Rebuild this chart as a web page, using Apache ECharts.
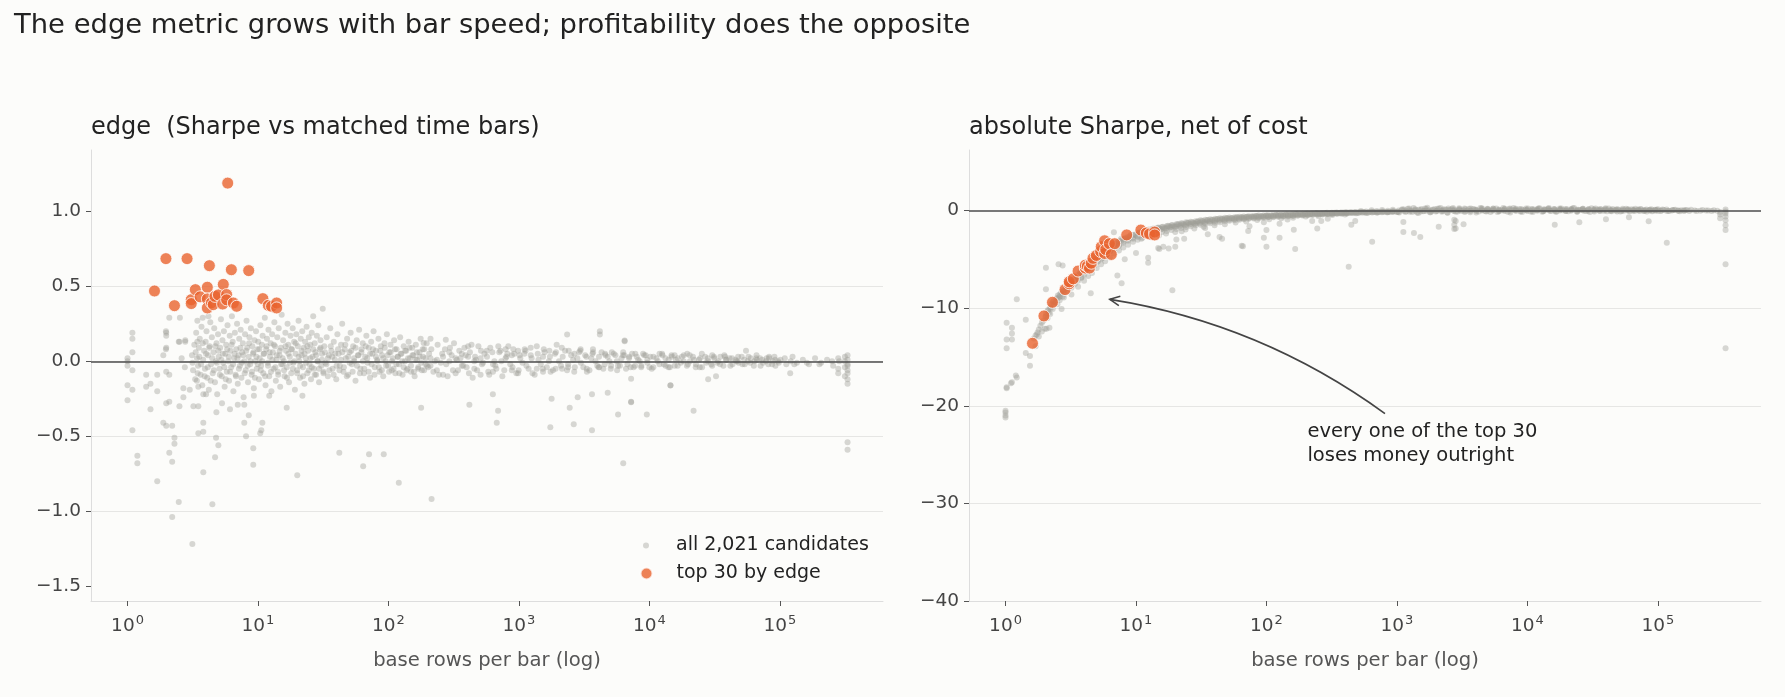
<!DOCTYPE html>
<html>
<head>
<meta charset="utf-8">
<script src="https://cdn.jsdelivr.net/npm/echarts@6/dist/echarts.min.js"></script>
<style>
html, body { margin: 0; padding: 0; background: #fcfcfa; }
#main { width: 1785px; height: 697px; }
</style>
</head>
<body>
<div id="main"></div>
<script>
// top 30 candidates by edge: rows per bar, edge, absolute net Sharpe
var topRows   = [1.61, 1.97, 2.29, 2.86, 3.08, 3.08, 3.31, 3.6, 4.09, 4.09, 4.09, 4.24, 4.4, 4.54, 4.68,
                 4.97, 5.36, 5.42, 5.75, 5.75, 5.86, 6.25, 6.47, 6.87, 8.49, 10.9, 12.0, 12.7, 13.9, 13.9];
var topEdge   = [0.469, 0.685, 0.371, 0.685, 0.411, 0.385, 0.478, 0.43, 0.494, 0.416, 0.356, 0.638, 0.39, 0.378, 0.433,
                 0.443, 0.382, 0.513, 0.445, 0.41, 1.189, 0.611, 0.389, 0.367, 0.605, 0.418, 0.373, 0.367, 0.389, 0.356];
var topSharpe = [-13.6, -10.8, -9.4, -8.1, -7.5, -7.3, -7.0, -6.2, -5.8, -5.9, -5.6, -5.7, -5.9, -5.4, -4.9,
                 -4.6, -4.2, -3.7, -4.4, -3.1, -4.0, -3.4, -4.5, -3.4, -2.5, -2.0, -2.3, -2.4, -2.2, -2.5];

// all candidates, edge panel: [rows per bar, edge]
var edgeAll = [
  [1,0.0],[1,-0.03],[1,0.02],[1.09,0.19],[1.09,0.15],[1.09,0.06],[1,-0.16],[1.09,-0.19],[1,-0.26],[1.09,-0.46],
  [1.19,-0.63],[1.19,-0.68],[1.09,-0.06],[1.39,-0.09],[1.5,-0.15],[1.39,-0.17],[1.69,-0.09],[1.69,-0.2],[1.5,-0.32],[1.69,-0.8],
  [1.88,0.04],[1.98,0.09],[1.98,0.17],[1.98,0.19],[2.09,-0.09],[1.98,-0.07],[2.09,-0.27],[1.98,-0.28],[1.88,-0.41],[1.98,-0.43],
  [2.2,-0.43],[2.29,-0.51],[2.29,-0.55],[2.09,-0.61],[2.2,-0.67],[2.2,-1.04],[2.5,0.13],[2.77,0.14],[2.5,-0.3],[2.68,-0.18],
  [2.68,-0.24],[2.09,0.29],[2.52,0.29],[1.97,0.2],[1.97,0.08],[2.47,0.13],[2.77,0.13],[3.43,0.27],[3.43,0.13],[3.77,0.29],
  [4.17,0.3],[2.47,-0.94],[3.14,-1.22],[4.47,-0.955],[3.81,-0.74],[3.49,-0.48],[3.81,-0.47],[3.81,-0.41],[4.77,-0.51],[4.97,-0.56],
  [4.69,-0.64],[9.2,-0.58],[9.2,-0.69],[10.4,-0.48],[10.6,-0.46],[7.85,-0.41],[8.1,-0.5],[8.5,-0.36],[10.8,-0.41],[20,-0.76],
  [42,-0.61],[64,-0.7],[4.8,-0.34],[5.3,-0.28],[6.1,-0.32],[7.85,-0.29],[7.0,-0.29],[9.3,-0.23],[12.2,-0.23],[16.6,-0.31],
  [21.9,-0.23],[3.49,-0.3],[3.2,-0.3],[3.0,-0.19],[3.81,-0.22],[4.0,-0.22],[3.49,-0.17],[3.4,-0.13],[2.6,0.02],[2.75,-0.04],
  [3.12,0.04],[3.18,-0.06],[3.25,0.11],[3.3,-0.12],[3.36,0.19],[3.41,0.02],[3.47,-0.03],[3.52,0.09],[3.58,0.15],[3.63,-0.09],
  [3.69,0.23],[3.74,-0.16],[3.8,0.01],[3.86,0.07],[3.92,-0.05],[3.97,0.13],[4.03,0.2],[4.08,-0.11],[4.14,0.04],[4.2,-0.19],
  [4.26,0.1],[4.31,0.26],[4.37,-0.02],[4.43,0.16],[4.5,-0.08],[4.56,0.06],[4.62,0.22],[4.68,-0.14],[4.75,0.0],[4.81,0.12],
  [4.87,-0.22],[4.94,0.18],[5.0,0.03],[5.07,-0.05],[5.13,0.09],[5.2,0.28],[5.27,-0.1],[5.34,0.14],[5.41,-0.01],[5.48,0.2],
  [5.55,-0.17],[5.62,0.05],[5.7,0.11],[5.77,-0.07],[5.84,0.24],[5.92,0.0],[6.0,-0.13],[6.07,0.17],[6.15,0.07],[6.23,-0.04],
  [6.31,0.3],[6.4,0.13],[6.48,-0.2],[6.56,0.02],[6.65,0.19],[6.73,-0.09],[6.82,0.08],[6.91,0.25],[7.0,-0.15],[7.09,0.04],
  [7.18,0.15],[7.27,-0.03],[7.37,0.21],[7.46,-0.11],[7.56,0.06],[7.66,0.12],[7.76,-0.24],[7.86,0.0],[7.96,0.18],[8.06,-0.06],
  [8.17,0.27],[8.27,0.09],[8.38,-0.14],[8.49,0.03],[8.6,0.16],[8.71,-0.02],[8.82,0.22],[8.94,-0.09],[9.05,0.1],[9.17,0.05],
  [9.29,-0.18],[9.41,0.14],[9.53,0.0],[9.66,0.2],[9.78,-0.05],[9.91,0.08],
  [10.04,0.13],[10.17,-0.12],[10.3,0.02],[10.43,0.24],[10.57,-0.03],[10.71,0.11],[10.85,0.17],[10.99,-0.08],[11.13,0.05],[11.28,0.29],
  [11.42,-0.16],[11.57,0.08],[11.72,0.15],[11.88,-0.01],[12.03,0.21],[12.19,-0.1],[12.35,0.03],[12.51,0.12],[12.67,-0.2],[12.84,0.18],
  [13.0,0.06],[13.17,-0.05],[13.35,0.26],[13.52,0.1],[13.7,-0.13],[13.87,0.01],[14.06,0.16],[14.24,-0.07],[14.42,0.22],[14.61,0.04],
  [14.8,-0.17],[15.0,0.09],[15.19,0.31],[15.39,-0.02],[15.59,0.14],[15.79,0.0],[16.0,-0.1],[16.21,0.19],[16.42,0.07],[16.63,-0.04],
  [16.85,0.25],[17.07,0.11],[17.29,-0.14],[17.52,0.03],[17.75,0.17],[17.98,-0.08],[18.21,0.08],[18.45,0.22],[18.69,-0.01],[18.93,0.13],
  [19.18,-0.19],[19.43,0.05],[19.68,0.18],[19.94,-0.06],[20.2,0.1],[20.46,0.27],[20.73,0.0],[21.0,-0.11],[21.27,0.15],[21.55,0.04],
  [21.83,0.2],[22.11,-0.04],[22.4,0.09],[22.69,-0.15],[22.99,0.13],[23.28,0.02],[23.59,0.23],[23.89,-0.08],[24.2,0.07],[24.52,0.16],
  [24.84,-0.02],[25.16,0.11],[25.49,-0.12],[25.82,0.19],[26.16,0.03],[26.5,0.3],[26.84,-0.05],[27.19,0.12],[27.55,0.06],[27.9,-0.09],
  [28.27,0.17],[28.63,0.0],[29.01,0.24],[29.38,-0.14],[29.77,0.08],[30.15,0.14],[30.55,-0.03],[30.94,0.05],[31.35,0.35],[31.75,-0.07],
  [32.2,0.1],[32.9,-0.01],[33.6,0.16],[34.3,-0.1],[35.0,0.04],[35.8,0.22],[36.5,0.07],[37.3,-0.05],[38.1,0.13],[38.9,0.01],
  [39.8,-0.12],[40.6,0.18],[41.5,0.05],[42.4,-0.03],[43.3,0.11],[44.2,0.25],[45.2,-0.07],[46.2,0.08],[47.1,0.02],[48.2,0.15],
  [49.2,-0.09],[50.3,0.06],[51.3,0.19],[52.4,-0.02],[53.6,0.1],[54.7,0.0],[55.9,-0.13],[57.1,0.14],[58.3,0.04],[59.6,0.21],
  [60.9,-0.05],[62.2,0.08],[63.5,0.12],[64.9,-0.08],[66.3,0.03],[67.7,0.17],[69.2,-0.01],[70.6,0.09],[72.2,-0.11],[73.7,0.13],
  [75.3,0.05],[76.9,0.2],[78.6,-0.04],[80.3,0.07],[82.0,0.01],[83.8,0.15],[85.6,-0.07],[87.4,0.1],[89.3,0.04],[91.2,-0.1],
  [93.2,0.12],[95.2,0.0],[97.2,0.18],[99.3,-0.03],[101.5,0.06],[103.7,0.11],[105.9,-0.06],[108.2,0.02],[110.5,0.14],[112.9,-0.08],
  [115.3,0.08],[117.8,0.03],[120.3,-0.02],[122.9,0.16],[125.6,0.05],[128.3,-0.09],[131,0.1],[133.8,0.0],[136.7,0.07],[139.7,-0.05],
  [142.7,0.13],[145.7,0.02],[148.9,-0.07],[152.1,0.09],[155.3,0.04],[158.7,-0.1],[162.1,0.11],[165.6,0.01],[169.1,-0.04],[172.8,0.06],
  [176.5,0.15],[180.3,-0.06],[184.2,0.03],[188.1,0.08],[192.2,-0.02],[196.3,0.12],
  [205,0.05],[221,-0.07],[238,0.11],[252,-0.01],[271,0.08],[284,-0.1],[305,0.04],[318,0.12],[341,-0.06],[356,0.02],
  [382,0.09],[397,-0.04],[421,0.06],[442,-0.11],[468,0.01],[489,0.1],[521,-0.02],[544,0.05],[582,-0.07],[603,0.09],
  [648,0.0],[671,-0.05],[721,0.07],[746,-0.1],[802,0.03],[829,0.1],[893,-0.04],[921,0.05],[995,-0.06],[1024,0.02],
  [1107,0.08],[1141,-0.03],[1232,0.04],[1270,-0.08],[1370,0.1],[1413,0.01],[1524,-0.05],[1572,0.06],[1696,0.0],[1749,-0.07],
  [1887,0.05],[1946,0.11],[2100,-0.03],[2165,0.03],[2337,-0.06],[2409,0.07],[2600,0.01],[2680,-0.04],[2893,0.06],[2982,-0.01],
  [3219,0.04],[3318,-0.07],[3582,0.02],[3692,0.08],[3985,-0.03],[4108,0.03],[4434,-0.05],[4571,0.05],[4934,0.0],[5086,-0.03],
  [5490,0.04],[5659,-0.06],[6108,0.02],[6297,0.06],[6796,-0.02],[7006,0.03],[7562,-0.04],[7795,0.05],[8414,0.0],[8673,-0.03],
  [9362,0.04],[9650,0.01],[10420,-0.05],[10740,0.03],[11590,0.0],[11950,0.05],[12890,-0.02],[13290,0.02],[14350,-0.04],[14790,0.04],
  [15960,0.01],[16450,-0.03],[17760,0.03],[18310,0.0],[19760,-0.02],[20370,0.04],[21990,0.01],[22660,-0.04],[24460,0.02],[25220,0.05],
  [27220,-0.01],[28060,0.02],[30290,-0.03],[31220,0.03],[33700,0.0],[34740,-0.02],[37500,0.04],[38650,0.01],[41720,-0.03],[43010,0.02],
  [46420,0.0],[47850,0.03],[51650,-0.02],[53240,0.01],[57470,0.03],[59230,-0.01],[63940,0.0],[65910,0.02],[71140,-0.03],[73330,0.01],
  [79160,0.02],[81590,-0.02],[88080,0.0],[90780,0.03],[98000,-0.01],[101000,0.01],[109000,0.02],[112000,-0.02],[121000,0.0],[125000,0.03],
  [135000,-0.01],[150000,0.01],[167000,-0.02],[186000,0.02],[207000,-0.01],[230000,0.01],[256000,-0.03],[285000,0.0],
  [210,0.02],[210,-0.03],[210,0.15],[235,0.01],[235,-0.06],[262,0.03],[262,-0.09],[293,0.0],[293,0.06],[327,0.02],
  [327,-0.08],[365,0.05],[365,-0.03],[408,0.03],[408,0.1],[455,0.0],[455,-0.05],[508,0.02],[508,-0.09],[567,0.07],
  [633,-0.02],[633,-0.07],[707,0.06],[790,0.02],[790,0.08],[882,0.04],[882,-0.06],[985,0.07],[985,-0.08],[1100,0.05],
  [1230,0.09],[1370,-0.05],[1530,0.03],[1530,-0.07],[1710,0.07],[1910,-0.05],[2130,0.09],[2380,-0.04],[2660,0.05],[2970,0.08],
  [3310,-0.05],[3700,0.06],[4130,-0.04],[4610,0.04],[5150,0.06],[5750,-0.03],[6420,0.04],[7170,-0.04],[8000,0.03],[8940,0.05],
  [10000,-0.04],[12500,0.05],[14000,-0.04],[15600,0.04],[19500,0.05],[24300,-0.04],[30300,0.04],[38000,0.03],[47400,0.0],[66200,0.04],
  [82700,0.03],[92400,-0.03],[129000,-0.02],[161000,-0.01],[201000,-0.02],[251000,0.0],
  [280000,0.02],[280000,-0.05],[280000,-0.08],[315000,0.0],[315000,-0.04],[315000,-0.1],[315000,0.03],
  [330000,-0.02],[330000,-0.06],[330000,-0.12],[330000,0.01],[330000,-0.15],[330000,-0.08],[330000,0.04],
  [330000,-0.03],[330000,-0.54],[330000,-0.59],
  [186,0.122],[275,0.144],[2340,0.178],[4170,0.2],[4170,0.178],[6460,0.133],[6460,0.138],[55000,0.071],
  [178,-0.31],[417,-0.29],[676,-0.41],[692,-0.33],[631,-0.22],[1740,-0.44],[1780,-0.25],[2630,-0.42],
  [2450,-0.31],[3630,-0.46],[5750,-0.355],[9550,-0.355],[7240,-0.27],[4790,-0.21],[3630,-0.22],[2820,-0.24],
  [14500,-0.16],[28200,-0.12],[120000,-0.08],[7240,-0.117],[14500,-0.162],[32400,-0.1],[7240,-0.273],
  [120,-0.81],[214,-0.92],[71,-0.62],[92,-0.62],[6300,-0.68],[21800,-0.33]
];

// the dense core of the edge cloud: [rows per bar, edge]
var edgeCore = [
  [3.15,-0.01],[3.33,0.06],[3.45,-0.08],[3.55,0.03],[3.66,-0.02],[3.77,0.12],[3.9,-0.1],[4.0,0.05],[4.12,-0.04],[4.23,0.09],
  [4.34,-0.13],[4.46,0.02],[4.59,-0.06],[4.71,0.1],[4.84,-0.01],[4.97,0.07],[5.1,-0.09],[5.24,0.01],[5.38,0.05],[5.52,-0.04],
  [5.66,-0.12],[5.81,0.08],[5.96,0.03],[6.12,-0.07],[6.28,0.11],[6.44,-0.02],[6.61,0.05],[6.78,-0.1],[6.96,0.02],[7.14,-0.05],
  [7.33,0.09],[7.52,-0.01],[7.71,0.04],[7.91,-0.08],[8.12,0.07],[8.33,-0.03],[8.55,0.12],[8.77,0.0],[9.0,-0.07],[9.23,0.06],
  [9.47,-0.11],[9.72,0.03],[9.97,-0.02],[10.23,0.08],[10.5,-0.06],[10.77,0.0],[11.05,0.05],[11.34,-0.1],[11.63,0.1],[11.94,-0.03],
  [12.25,0.06],[12.57,-0.07],[12.9,0.01],[13.23,0.11],[13.58,-0.04],[13.93,0.04],[14.29,-0.09],[14.67,0.07],[15.05,-0.02],[15.44,0.02],
  [15.84,-0.06],[16.26,0.1],[16.68,-0.11],[17.11,0.05],[17.56,-0.01],[18.02,0.08],[18.49,-0.05],[18.97,0.0],[19.46,0.12],[19.97,-0.08],
  [20.49,0.03],[21.03,-0.03],[21.58,0.07],[22.14,-0.1],[22.72,0.05],[23.31,-0.01],[23.92,0.1],[24.54,-0.06],[25.18,0.02],[25.84,-0.04],
  [26.51,0.08],[27.2,-0.09],[27.91,0.04],[28.64,0.0],[29.39,-0.05],[30.15,0.09],[30.94,0.01],[31.75,-0.08],[32.57,0.06],[33.42,-0.02],
  [34.3,0.02],[35.19,-0.06],[36.11,0.1],[37.05,0.03],[38.01,-0.09],[39.01,0.05],[40.02,-0.03],[41.07,0.08],[42.14,-0.06],[43.24,0.01],
  [44.36,0.06],[45.52,-0.04],[46.71,0.11],[47.93,-0.1],[49.18,0.03],[50.46,-0.01],[51.78,0.07],[53.13,-0.07],[54.51,0.02],[55.94,0.09],
  [57.4,-0.03],[58.89,0.04],[60.43,-0.08],[62.0,0.06],[63.62,0.0],[65.28,-0.05],[66.98,0.1],[68.73,0.02],[70.52,-0.07],[72.36,0.05],
  [74.24,-0.02],[76.18,0.08],[78.17,-0.09],[80.2,0.03],[82.3,0.0],[84.44,-0.04],[86.65,0.07],[88.91,-0.06],[91.23,0.02],[93.61,0.09],
  [96.05,-0.03],[98.55,0.04],[101.1,-0.07],[103.8,0.06],[106.5,0.0],[109.3,-0.05],[112.1,0.08],[115.0,-0.02],[118.0,0.03],[121.1,-0.08],
  [124.3,0.05],[127.5,0.0],[130.8,-0.04],[134.2,0.07],[137.7,-0.06],[141.3,0.02],[145.0,0.09],[148.8,-0.03],[152.7,0.04],[156.7,-0.07],
  [160.8,0.01],[165.0,0.06],[169.3,-0.05],[173.7,0.03],[178.2,-0.01],[182.9,0.08],[187.6,-0.06],[192.5,0.02],[197.5,-0.03],
  [202,-0.04],[213,0.08],[227,0.0],[244,-0.09],[258,0.05],[277,-0.02],[296,0.09],[312,-0.06],[334,0.01],[349,0.07],
  [374,-0.03],[390,0.04],[414,-0.08],[433,0.11],[461,0.03],[478,-0.06],[512,0.07],[531,-0.01],[569,0.03],[592,-0.09],
  [625,0.06],[659,-0.03],[695,0.1],[733,0.0],[772,-0.06],[815,0.05],[858,-0.02],[907,0.08],[956,-0.08],[1010,0.04],
  [1065,-0.01],[1124,0.07],[1186,-0.05],[1251,0.02],[1320,-0.09],[1393,0.05],[1470,-0.02],[1551,0.08],[1636,-0.04],[1727,0.03],
  [1822,-0.06],[1922,0.06],[2028,0.0],[2140,-0.05],[2258,0.07],[2383,-0.02],[2514,0.04],[2653,-0.07],[2799,0.02],[2954,0.07],
  [3117,-0.04],[3289,0.03],[3470,-0.06],[3662,0.05],[3864,0.0],[4077,-0.04],[4302,0.06],[4540,-0.02],[4790,0.03],[5055,-0.05],
  [5334,0.05],[5628,0.0],[5939,-0.03],[6267,0.04],[6613,-0.05],[6978,0.02],[7363,0.05],[7769,-0.03],[8198,0.01],[8651,-0.04],
  [9128,0.04],[9632,-0.01],[10160,0.03],[10720,-0.04],[11320,0.02],[11940,-0.02],[12600,0.04],[13300,-0.03],[14030,0.01],[14800,0.03],
  [15620,-0.03],[16480,0.02],[17390,-0.01],[18350,0.04],[19370,-0.03],[20440,0.0],[21560,0.03],[22750,-0.02],[24010,0.01],[25330,-0.04],
  [26730,0.03],[28210,0.0],[29770,-0.02],[31410,0.02],[33140,-0.01],[34970,0.03],[36900,-0.03],[38940,0.01],[41090,0.02],[43350,-0.02],
  [45750,0.01],[48270,-0.01],[50940,0.03],[53750,-0.02],[56720,0.0],[59850,0.02],[63150,-0.03],[66640,0.01],[70320,0.02],[74200,-0.01],
  [78300,0.0],[82620,0.02],[87180,-0.02],[92000,0.01],[97070,0.0]
];

// all candidates, net Sharpe panel: [rows per bar, absolute Sharpe]
var sharpeAll = [
  [1.0,-21.0],[1.0,-20.7],[1.0,-21.2],[1.0,-20.5],[1.02,-18.2],[1.02,-18.1],[1.1,-17.7],[1.12,-17.6],[1.22,-17.1],[1.2,-16.9],
  [1.02,-14.1],[1.02,-13.2],[1.12,-13.2],[1.12,-12.6],[1.12,-12.0],[1.02,-11.5],[1.22,-9.1],[1.43,-11.2],[1.43,-14.6],[1.54,-14.9],
  [1.54,-15.9],[1.74,-12.7],[2.04,-5.86],[2.04,-8.07],[2.06,-12.1],[2.0,-12.1],[2.17,-12.0],[2.04,-10.8],[2.69,-10.1],[2.55,-5.5],
  [2.74,-5.62],
  [1.7,-12.8],[1.7,-13.9],[1.8,-12.2],[1.8,-12.9],[1.9,-11.5],[1.9,-12.4],[2.1,-10.3],[2.1,-11.0],[2.2,-9.9],[2.2,-10.6],
  [2.3,-9.4],[2.3,-10.1],[2.5,-9.0],[2.5,-9.6],[2.6,-8.6],[2.6,-9.2],[2.8,-8.2],[2.8,-8.9],[3.0,-7.7],[3.0,-8.3],
  [3.2,-7.3],[3.2,-7.9],[3.2,-8.6],[3.4,-7.0],[3.4,-7.5],[3.6,-6.6],[3.6,-7.2],[3.6,-7.8],[3.8,-6.3],[3.8,-6.9],
  [4.0,-6.0],[4.0,-6.6],[4.0,-7.2],[4.3,-5.6],[4.3,-6.1],[4.3,-6.7],[4.6,-5.2],[4.6,-5.8],[4.6,-6.4],[5.0,-4.8],
  [5.0,-5.3],[5.0,-5.9],[5.4,-4.4],[5.4,-5.0],[5.4,-5.5],[5.8,-4.0],[5.8,-4.6],[5.8,-5.2],[6.3,-3.7],[6.3,-4.2],
  [6.3,-4.8],[6.8,-3.4],[6.8,-3.9],[6.8,-4.4],[7.4,-3.1],[7.4,-3.6],[7.4,-4.1],[8.0,-2.9],[8.0,-3.3],[8.0,-3.8],
  [8.7,-2.7],[8.7,-3.1],[8.7,-3.5],[9.5,-2.5],[9.5,-2.9],[9.5,-3.2],[10.3,-2.3],[10.3,-2.7],[10.3,-3.0],[11.2,-2.1],
  [11.2,-2.5],[11.2,-2.8],[12.2,-2.0],[12.2,-2.3],[12.2,-2.6],[13.3,-1.9],[13.3,-2.2],[13.3,-2.5],[14.5,-1.8],[14.5,-2.0],
  [14.5,-2.3],[15.8,-1.7],[15.8,-1.9],[15.8,-2.2],[17.2,-1.6],[17.2,-1.8],[17.2,-2.1],[18.7,-1.5],[18.7,-1.7],[18.7,-2.0],
  [20.4,-1.4],[20.4,-1.6],[20.4,-1.9],[22.2,-1.3],[22.2,-1.5],[22.2,-1.8],[24.2,-1.2],[24.2,-1.4],[24.2,-1.7],[26.3,-1.15],
  [26.3,-1.35],[26.3,-1.6],[28.7,-1.1],[28.7,-1.3],[28.7,-1.5],[31.2,-1.0],[31.2,-1.2],[31.2,-1.45],[34,-0.95],[34,-1.15],
  [34,-1.35],[37,-0.9],[37,-1.1],[37,-1.3],[40.4,-0.85],[40.4,-1.0],[40.4,-1.25],[44,-0.8],[44,-0.95],[44,-1.2],
  [48,-0.75],[48,-0.9],[48,-1.1],[52,-0.72],[52,-0.85],[52,-1.05],[57,-0.68],[57,-0.82],[57,-1.0],[62,-0.65],
  [62,-0.78],[62,-0.95],[67,-0.62],[67,-0.74],[67,-0.9],[73,-0.58],[73,-0.7],[73,-0.85],[80,-0.55],[80,-0.67],
  [80,-0.82],[87,-0.52],[87,-0.64],[87,-0.78],[95,-0.5],[95,-0.6],[95,-0.75],[103,-0.48],[103,-0.58],[103,-0.7],
  [113,-0.45],[113,-0.55],[113,-0.68],[123,-0.42],[123,-0.52],[123,-0.65],[134,-0.4],[134,-0.5],[134,-0.62],[146,-0.38],
  [146,-0.48],[146,-0.6],[159,-0.36],[159,-0.45],[159,-0.56],[173,-0.34],[173,-0.43],[173,-0.53],[189,-0.32],[189,-0.4],
  [189,-0.5],[206,-0.3],[206,-0.38],[206,-0.48],[224,-0.28],[224,-0.36],[224,-0.45],[245,-0.26],[245,-0.34],[245,-0.42],
  [267,-0.25],[267,-0.32],[267,-0.4],[291,-0.23],[291,-0.3],[291,-0.38],[317,-0.22],[317,-0.28],[317,-0.36],[345,-0.2],
  [345,-0.27],[345,-0.34],[376,-0.19],[376,-0.25],[376,-0.32],[410,-0.18],[410,-0.24],[410,-0.3],[447,-0.17],[447,-0.22],
  [487,-0.16],[487,-0.27],[530,-0.15],[530,-0.05],[580,-0.25],[580,-0.1],[640,-0.12],[640,0.02],[700,-0.2],[700,-0.06],
  [770,-0.1],[770,0.05],[850,-0.18],[850,-0.03],[930,-0.08],[930,0.08],[1030,-0.14],[1030,0.0],[1130,-0.06],[1130,0.1],
  [1250,-0.12],[1250,0.03],[1380,-0.04],[1380,0.12],[1520,-0.1],[1520,0.05],[1680,-0.02],[1680,0.15],[1850,-0.08],[1850,0.06],
  [2040,0.0],[2040,0.18],[2250,-0.06],[2250,0.09],[2480,0.02],[2480,0.2],[2740,-0.05],[2740,0.1],[3020,0.03],[3020,0.16],
  [3340,-0.04],[3340,0.12],[3680,0.01],[3680,0.22],[4060,-0.06],[4060,0.08],[4480,0.02],[4480,0.17],[4950,-0.03],[4950,0.11],
  [5460,0.0],[5460,0.19],[6030,-0.05],[6030,0.09],[6650,0.03],[6650,0.14],[7340,-0.02],[7340,0.2],[8100,0.01],[8100,0.1],
  [8940,-0.04],[8940,0.15],[9870,0.02],[9870,0.08],[10900,-0.03],[10900,0.13],[12000,0.0],[12000,0.18],[13300,-0.05],[13300,0.1],
  [14600,0.02],[14600,0.15],[16200,-0.02],[16200,0.08],[17800,0.01],[17800,0.12],[19700,-0.04],[19700,0.06],[21700,0.0],[21700,0.16],
  [24000,-0.03],[24000,0.09],[26500,0.02],[26500,0.11],[29200,-0.05],[29200,0.05],[32300,0.0],[32300,0.13],[35600,-0.02],[35600,0.07],
  [39300,0.01],[39300,0.12],[43400,-0.04],[43400,0.05],[47900,0.0],[47900,0.1],[52900,-0.06],[52900,0.04],[58400,0.01],[58400,0.09],
  [64500,-0.03],[64500,0.06],[71200,0.0],[71200,0.11],[78600,-0.05],[78600,0.03],[86800,0.01],[86800,0.08],[95800,-0.02],[95800,0.05],
  [106000,0.0],[117000,-0.04],[129000,0.02],[143000,-0.01],[158000,0.03],[174000,-0.05],[192000,0.0],[212000,-0.03],[234000,0.01],
  [258000,-0.06],[285000,-0.02],[300000,-0.4],[300000,-0.8],[300000,-0.15],
  [330000,-0.1],[330000,0.1],[330000,-0.3],[330000,-0.6],[330000,-1.0],[330000,-1.5],[330000,-2.0],[330000,-5.5],[330000,-14.1],
  [7.76,-7.46],[7.2,-6.65],[8.2,-5.0],[6.77,-2.23],[12.4,-5.35],[12.4,-4.85],[10,-4.34],[14.8,-3.83],[4.5,-8.48],[19,-8.17],
  [17.8,-3.9],[20,-3.7],[23.4,-2.9],[22.4,-2.13],[20.4,-2.98],[15.1,-3.93],[16.2,-3.7],[33.9,-1.8],[35.5,-2.42],[43.7,-2.7],
  [45.7,-2.9],[64.6,-3.6],[72.4,-2.1],[74.1,-1.6],[95.5,-1.2],[100,-2.0],[95.5,-2.8],[100,-3.7],[126,-1.35],[126,-2.8],
  [145,-0.93],[162,-1.96],[166,-3.95],[224,-1.07],[245,-1.84],[263,-1.07],[295,-0.83],[427,-5.76],[447,-1.45],[479,-1.07],
  [646,-3.2],[1120,-1.17],[1120,-2.2],[1350,-2.3],[1510,-2.7],[2090,-1.66],[2820,-1.07],[2820,-1.84],[3240,-1.4],[2750,-0.95],
  [2750,-1.9],[2750,-1.45],[16200,-1.45],[66,-3.66],[117000,-3.3],[25000,-1.2],[40000,-0.9],[60000,-0.7],[85000,-1.1],
  [1.65,-13.1],[1.76,-12.5],[1.85,-11.8],[1.95,-11.3],[2.05,-10.5],[2.15,-10.5],[2.25,-9.6],[2.36,-9.6],[2.45,-9.0],[2.55,-8.9],
  [2.67,-8.4],[2.74,-8.8],[2.9,-7.9],[3.1,-7.6],[3.3,-7.1],[3.5,-7.0],[3.7,-6.4],[3.9,-6.3],[4.15,-5.8],[4.45,-5.6],
  [4.8,-5.0],[5.2,-4.8],[5.6,-4.2],[6.05,-4.1],[6.55,-3.5],[7.1,-3.4],[7.7,-2.9],[8.35,-2.9],[9.1,-2.5],[9.9,-2.5],
  [10.7,-2.3],[11.6,-2.3],[12.6,-2.0],[13.8,-2.1],[15,-1.8],[16.4,-1.8],[17.9,-1.6],[19.5,-1.6],[21.3,-1.4],[23.2,-1.4],
  [25.3,-1.25],[27.6,-1.25],[30,-1.1],[32.7,-1.1],[35.6,-0.97],[38.8,-0.98],[42.3,-0.86],[46.1,-0.88],[50.2,-0.78],[54.7,-0.8],
  [59.6,-0.7],[65,-0.72],[70.8,-0.63],[77.2,-0.65],[84.1,-0.56],[91.6,-0.6],[99.8,-0.51],[108.8,-0.54],[118.5,-0.46],[129,-0.49],
  [140.7,-0.42],[153,-0.45],[167,-0.38],[182,-0.41],[198,-0.34],[216,-0.37],[235,-0.3],[256,-0.33],[279,-0.27],[304,-0.3],
  [331,-0.24],[361,-0.27],[393,-0.21],[428,-0.24],[467,-0.19],[509,-0.22],[554,-0.16],[604,-0.19],[658,-0.14],[717,-0.17],
  [781,-0.12],[851,-0.15],[928,-0.1],[1011,-0.13],
  [11,-2.9],[13,-2.75],[15,-2.55],[17,-2.35],[20,-2.2],[24,-1.95],[28,-1.85],[33,-1.65],[40,-1.5],[48,-1.4],
  [58,-1.22],[70,-1.12],[85,-0.98],[105,-0.9],[130,-0.78],[160,-0.74],[200,-0.6],[250,-0.56],[320,-0.45],[400,-0.41],
  [1090,0.06],[1160,-0.15],[1210,0.18],[1290,-0.02],[1340,0.25],[1430,-0.2],[1470,0.09],[1590,-0.08],[1640,0.22],[1760,0.0],
  [1810,-0.17],[1950,0.14],[2010,-0.05],[2160,0.26],[2210,-0.12],[2390,0.07],[2450,-0.22],[2640,0.16],[2710,0.0],[2920,-0.1],
  [3000,0.24],[3230,0.04],[3310,-0.16],[3570,0.19],[3660,-0.03],[3950,0.11],[4050,-0.19],[4360,0.27],[4470,0.02],[4830,-0.09],
  [4950,0.17],[5340,-0.01],[5470,0.21],[5900,-0.14],[6050,0.08],[6530,0.25],[6690,-0.06],[7220,0.13],[7390,-0.2],[7980,0.03],
  [8170,0.19],[8830,-0.1],[9040,0.09],[9760,0.22],[9990,-0.04],[10800,0.14],[11000,-0.15],[11900,0.05],[12200,0.2],[13200,-0.08],
  [13500,0.11],[14600,0.26],[14900,-0.02],[16100,0.16],[16500,-0.12],[17800,0.07],[18200,0.21],[19700,-0.06],[20100,0.12],[21800,0.02],
  [22300,0.24],[24100,-0.1],[24600,0.09],[26600,0.18],[27200,-0.03],[29500,0.13],[30100,-0.14],[32600,0.06],[33300,0.2],[36000,-0.05],
  [36800,0.1],[39800,0.23],[40700,-0.08],[44000,0.04],[45000,0.15],[48700,-0.11],[49800,0.08],[53800,0.19],[55000,-0.02],[59500,0.12],
  [60800,-0.07],[65800,0.05],[67200,0.17],[72700,-0.04],[74300,0.1],[80400,0.02],[82200,-0.09],[88900,0.14],[90900,0.0],[98300,0.07],
  [100500,-0.05],[108700,0.11],[120200,-0.02],[132900,0.06],[146900,-0.07],[162400,0.03],[179600,0.09],[198500,-0.04],[219500,0.05],[242700,-0.01],
  [268300,0.04]
];

// the dense core of the Sharpe curve: [rows per bar, absolute Sharpe]
var sharpeCore = [
  [2.02,-10.9],[2.12,-10.2],[2.22,-10.0],[2.33,-9.3],[2.42,-9.4],[2.52,-8.7],[2.62,-8.8],[2.72,-8.3],[2.83,-8.5],[2.95,-7.8],
  [3.05,-8.0],[3.17,-7.3],[3.28,-7.6],[3.42,-6.9],[3.55,-7.1],[3.68,-6.6],[3.83,-6.8],[3.97,-6.1],[4.12,-6.3],[4.28,-5.7],
  [4.42,-6.0],[4.6,-5.4],[4.75,-5.7],[4.95,-5.0],[5.12,-5.2],[5.32,-4.6],[5.5,-4.9],[5.72,-4.3],[5.92,-4.5],[6.15,-3.9],
  [6.38,-4.1],[6.62,-3.6],[6.88,-3.8],[7.15,-3.3],[7.42,-3.5],[7.72,-3.1],[8.02,-3.2],[8.35,-2.8],[8.68,-3.0],[9.03,-2.6],
  [9.4,-2.8],[9.78,-2.45],[10.2,-2.6],[10.6,-2.25],[11.05,-2.45],[11.5,-2.1],[12.0,-2.3],[12.5,-1.95],[13.05,-2.15],[13.6,-1.85],
  [14.2,-2.05],[14.8,-1.75],[15.45,-1.95],[16.1,-1.65],[16.8,-1.85],[17.55,-1.55],[18.3,-1.75],[19.1,-1.48],[19.95,-1.66],[20.8,-1.4],
  [21.75,-1.58],[22.7,-1.32],[23.7,-1.5],[24.75,-1.26],[25.85,-1.42],[27,-1.2],[28.2,-1.35],[29.45,-1.14],[30.75,-1.3],[32.1,-1.06],
  [33.5,-1.22],[35,-1.0],[36.6,-1.16],[38.2,-0.95],[39.9,-1.1],[41.7,-0.9],[43.5,-1.04],[45.5,-0.85],[47.5,-0.98],[49.6,-0.8],
  [51.8,-0.94],[54.1,-0.76],[56.5,-0.9],[59,-0.72],[61.6,-0.85],[64.4,-0.69],[67.2,-0.81],[70.2,-0.66],[73.3,-0.77],[76.6,-0.62],
  [80,-0.74],[83.5,-0.59],[87.2,-0.7],[91.1,-0.56],[95.2,-0.67],[99.4,-0.54],[103.8,-0.64],[108.4,-0.51],[113.2,-0.61],[118.3,-0.48],
  [123.5,-0.58],[129,-0.46],[134.8,-0.55],[140.8,-0.44],[147,-0.53],[153.6,-0.41],[160.4,-0.5],[167.5,-0.39],[175,-0.48],[182.8,-0.37],
  [190.9,-0.45],[199.4,-0.35],[208.3,-0.43],[217.5,-0.33],[227.2,-0.41],[237.3,-0.31],[247.9,-0.39],[258.9,-0.3],[270.4,-0.37],[282.5,-0.28],
  [295,-0.35],[308.2,-0.27],[321.9,-0.33],[336.2,-0.25],[351.1,-0.31],[366.8,-0.24],[383.1,-0.29],[400.1,-0.22],[417.9,-0.28],[436.5,-0.21],
  [455.9,-0.26],[476.2,-0.2],[497.4,-0.25],[519.5,-0.18],[542.6,-0.23],[566.7,-0.17],[591.9,-0.22],[618.3,-0.16],[645.8,-0.2],[674.5,-0.15],
  [704.5,-0.19],[735.8,-0.14],[768.6,-0.18],[802.8,-0.13],[838.5,-0.17],[875.8,-0.12],[914.8,-0.16],[955.5,-0.11],[998,-0.15],
  [1040,-0.2],[1100,0.12],[1180,-0.08],[1240,0.2],[1310,-0.14],[1390,0.05],[1460,-0.25],[1540,0.15],[1620,-0.05],[1710,0.28],
  [1790,-0.18],[1890,0.1],[1990,-0.09],[2100,0.22],[2200,-0.02],[2320,0.13],[2430,-0.2],[2560,0.06],[2690,0.25],[2830,-0.12],
  [2980,0.09],[3130,-0.06],[3300,0.2],[3470,0.01],[3650,-0.17],[3840,0.15],[4040,0.04],[4250,-0.1],[4470,0.24],[4710,-0.04],
  [4950,0.12],[5210,-0.15],[5480,0.07],[5770,0.2],[6070,-0.08],[6390,0.03],[6720,0.17],[7070,-0.12],[7440,0.1],[7830,0.25],
  [8240,-0.03],[8670,0.14],[9120,-0.16],[9600,0.06],[10100,0.21],[10600,-0.09],[11200,0.11],[11800,0.01],[12400,0.24],[13000,-0.13],
  [13700,0.08],[14400,0.18],[15200,-0.05],[16000,0.13],[16800,-0.1],[17700,0.22],[18600,0.02],[19600,0.15],[20600,-0.07],[21700,0.1],
  [22800,0.26],[24000,-0.12],[25300,0.05],[26600,0.19],[28000,-0.04],[29400,0.12],[31000,0.23],[32600,-0.09],[34300,0.07],[36100,0.16],
  [38000,-0.02],[40000,0.11],[42000,0.21],[44200,-0.07],[46600,0.04],[49000,0.14],[51600,-0.1],[54300,0.09],[57100,0.18],[60100,0.0],
  [63200,0.12],[66500,-0.06],[70000,0.06],[73700,0.15],[77500,-0.03],[81600,0.1],[85900,0.02],[90400,-0.08],[95100,0.08],[100100,0.13],
  [105300,-0.04],[110800,0.05],[116600,0.1],[122700,-0.06],[129100,0.03],[135900,0.08],[143000,-0.02],[150500,0.04],[158400,-0.05],[166700,0.06]
];

var decadeTicks = [1, 10, 100, 1000, 10000, 100000];
var edgeTicks = [-1.5, -1.0, -0.5, 0, 0.5, 1.0];
var sharpeTicks = [-40, -30, -20, -10, 0];

var FONT = 'DejaVu Sans';
var GRAY = 'rgba(158,157,151,0.5)';
var ORANGE = '#e8632e';

function minus(s) { return String(s).replace('-', '\u2212'); }

function topPairs(vals) {
    return topRows.map(function (r, i) { return [r, vals[i]]; });
}

function makeX(i) {
    return {
        type: 'log', logBase: 10, gridIndex: i,
        min: 0.525, max: 617000,
        name: 'base rows per bar (log)',
        nameLocation: 'middle', nameGap: 50,
        nameTextStyle: { color: '#555', fontSize: 19.6, fontFamily: FONT },
        axisLine: { show: true, onZero: false, lineStyle: { color: '#dddddd', width: 1 } },
        axisTick: { show: true, length: 5, customValues: decadeTicks, lineStyle: { color: '#555' } },
        minorTick: { show: false },
        splitLine: { show: false },
        axisLabel: {
            customValues: decadeTicks,
            margin: 13,
            formatter: function (v) {
                return '{b|10}{s|' + Math.round(Math.log10(v)) + '}';
            },
            rich: {
                b: { fontSize: 18.5, color: '#444', fontFamily: FONT },
                s: { fontSize: 13, color: '#444', fontFamily: FONT, padding: [0, 0, 11, 1] }
            }
        }
    };
}

function makeY(i, min, max, ticks, fmt) {
    return {
        type: 'value', gridIndex: i, min: min, max: max,
        interval: i === 1 ? 10 : undefined,
        axisLine: { show: true, onZero: false, lineStyle: { color: '#dddddd' } },
        axisTick: { show: true, length: 5, customValues: ticks, lineStyle: { color: '#555' } },
        axisLabel: { customValues: ticks, color: '#444', fontSize: 18.5, fontFamily: FONT, margin: 10, formatter: fmt },
        splitLine: { show: true, showMinLine: false, showMaxLine: false, lineStyle: { color: '#e6e6e4', width: 1 } }
    };
}

var chart = echarts.init(document.getElementById('main'));

var option = {
    backgroundColor: '#fcfcfa',
    animation: false,
    textStyle: { fontFamily: FONT },
    title: [{
        text: 'The edge metric grows with bar speed; profitability does the opposite',
        left: 14, top: 12, padding: 0,
        textStyle: { fontSize: 27.4, fontWeight: 'normal', color: '#222', fontFamily: FONT }
    }, {
        text: 'edge  (Sharpe vs matched time bars)',
        left: 91, top: 116, padding: 0,
        textStyle: { fontSize: 24, fontWeight: 'normal', color: '#222', fontFamily: FONT }
    }, {
        text: 'absolute Sharpe, net of cost',
        left: 969, top: 116, padding: 0,
        textStyle: { fontSize: 24, fontWeight: 'normal', color: '#222', fontFamily: FONT }
    }],
    legend: [{
        data: ['all 2,021 candidates'],
        left: 638, top: 531, icon: 'circle',
        itemWidth: 50, itemHeight: 6, selectedMode: false,
        textStyle: { fontSize: 19, color: '#222', fontFamily: FONT }
    }, {
        data: ['top 30 by edge'],
        left: 634.5, top: 559, icon: 'circle',
        itemWidth: 50, itemHeight: 12, selectedMode: false,
        textStyle: { fontSize: 19, color: '#222', fontFamily: FONT }
    }],
    grid: [
        { left: 91, top: 150, width: 792, height: 451 },
        { left: 969, top: 150, width: 792, height: 451 }
    ],
    xAxis: [makeX(0), makeX(1)],
    yAxis: [
        makeY(0, -1.6, 1.41, edgeTicks, function (v) { return minus(v.toFixed(1)); }),
        makeY(1, -40, 6.2, sharpeTicks, function (v) { return minus(v); })
    ],
    series: [{
        name: 'all 2,021 candidates', type: 'scatter',
        xAxisIndex: 0, yAxisIndex: 0,
        symbolSize: 6,
        itemStyle: { color: GRAY },
        data: edgeAll.concat(edgeCore),
        markLine: {
            silent: true, symbol: 'none', animation: false,
            label: { show: false },
            lineStyle: { color: '#4d4d4d', width: 1.6, type: 'solid' },
            data: [{ yAxis: 0 }]
        }
    }, {
        name: 'top 30 by edge', type: 'scatter',
        xAxisIndex: 0, yAxisIndex: 0,
        symbolSize: 12,
        itemStyle: { color: ORANGE, borderColor: '#fff', borderWidth: 1 },
        data: topPairs(topEdge)
    }, {
        name: 'all 2,021 candidates', type: 'scatter',
        xAxisIndex: 1, yAxisIndex: 1,
        symbolSize: 6,
        itemStyle: { color: GRAY },
        data: sharpeAll.concat(sharpeCore),
        markLine: {
            silent: true, symbol: 'none', animation: false,
            label: { show: false },
            lineStyle: { color: '#4d4d4d', width: 1.6, type: 'solid' },
            data: [{ yAxis: 0 }]
        }
    }, {
        name: 'top 30 by edge', type: 'scatter',
        xAxisIndex: 1, yAxisIndex: 1,
        symbolSize: 12,
        itemStyle: { color: ORANGE, borderColor: '#fff', borderWidth: 1 },
        data: topPairs(topSharpe)
    }]
};

chart.setOption(option);

// annotation: curved arrow and text, anchored in the right panel's data space
var rp = { xAxisIndex: 1, yAxisIndex: 1 };
var tail = chart.convertToPixel(rp, [810, -20.8]);
var tip = chart.convertToPixel(rp, [6.3, -9.1]);
var c = -0.12;
var cp = [(tail[0] + tip[0]) / 2 - (tail[1] - tip[1]) * c, (tail[1] + tip[1]) / 2 - (tip[0] - tail[0]) * c];
var dx = tip[0] - cp[0], dy = tip[1] - cp[1], dl = Math.sqrt(dx * dx + dy * dy);
dx /= dl; dy /= dl;
function arm(a) {
    var ca = Math.cos(a), sa = Math.sin(a);
    return [tip[0] - 11 * (dx * ca - dy * sa), tip[1] - 11 * (dx * sa + dy * ca)];
}
var txt = chart.convertToPixel(rp, [206, -23.95]);

chart.setOption({
    graphic: [{
        type: 'bezierCurve', silent: true,
        shape: { x1: tail[0], y1: tail[1], x2: tip[0], y2: tip[1], cpx1: cp[0], cpy1: cp[1] },
        style: { stroke: '#444', lineWidth: 1.6, fill: null }
    }, {
        type: 'polyline', silent: true,
        shape: { points: [arm(0.45), tip, arm(-0.45)] },
        style: { stroke: '#444', lineWidth: 1.6, fill: null }
    }, {
        type: 'text', left: txt[0], top: txt[1] - 24, silent: true,
        style: {
            text: 'every one of the top 30\nloses money outright',
            font: '19.5px "DejaVu Sans"', fill: '#222', lineHeight: 24
        }
    }]
});
</script>
</body>
</html>
